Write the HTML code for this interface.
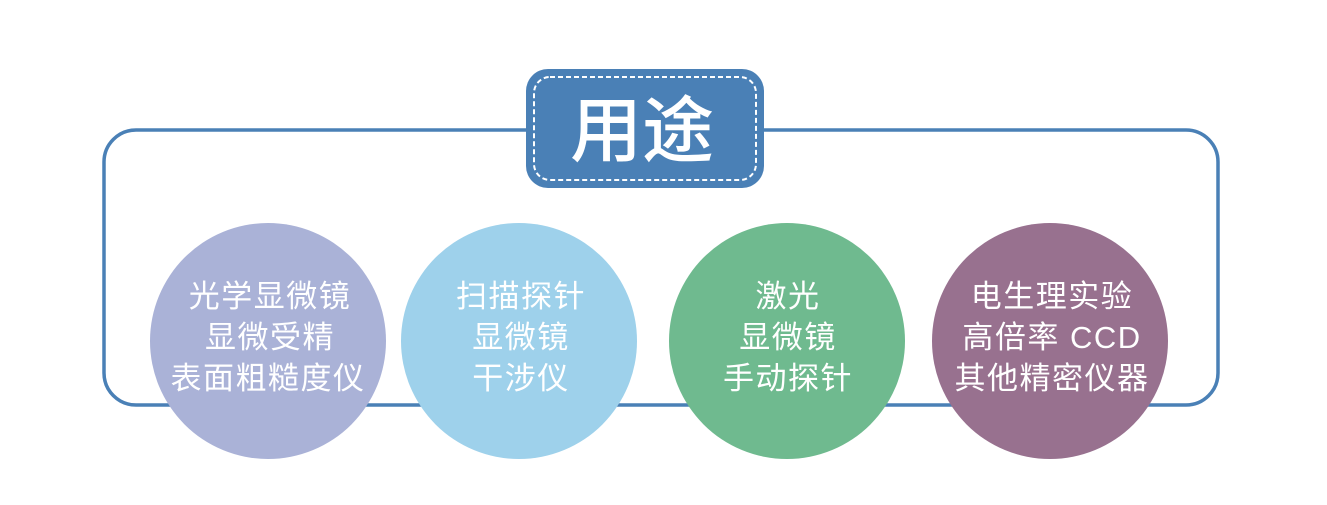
<!DOCTYPE html>
<html><head><meta charset="utf-8"><style>
html,body{margin:0;padding:0;background:#fff;width:1327px;height:505px;overflow:hidden}
text{font-family:"Liberation Sans","Noto Sans CJK SC",sans-serif;fill:#fff}
</style></head><body>
<svg width="1327" height="505" viewBox="0 0 1327 505" xmlns="http://www.w3.org/2000/svg">
<rect x="104" y="130" width="1114" height="275" rx="32" fill="none" stroke="#4a80b6" stroke-width="3.5"/>
<rect x="526" y="69" width="238" height="119" rx="22" fill="#4a80b6"/>
<rect x="534" y="77" width="222" height="103" rx="16" fill="none" stroke="#fff" stroke-width="2" stroke-dasharray="5,3"/>
<text x="642" y="156" font-size="72" font-weight="500" text-anchor="middle">用途</text>
<circle cx="268" cy="341" r="118" fill="#aab2d7"/>
<circle cx="519" cy="341" r="118" fill="#9ed1eb"/>
<circle cx="787" cy="341" r="118" fill="#6fba8f"/>
<circle cx="1050" cy="341" r="118" fill="#98718f"/>
<g font-size="31" text-anchor="middle" letter-spacing="1.5">
<text x="270" y="307">光学显微镜</text><text x="270" y="348">显微受精</text><text x="268" y="389">表面粗糙度仪</text>
<text x="521" y="307">扫描探针</text><text x="521" y="348">显微镜</text><text x="521" y="389">干涉仪</text>
<text x="788" y="307">激光</text><text x="788" y="348">显微镜</text><text x="788" y="389">手动探针</text>
<text x="1052" y="307">电生理实验</text><text x="1052" y="348">高倍率 CCD</text><text x="1052" y="389">其他精密仪器</text>
</g>
</svg>
</body></html>
